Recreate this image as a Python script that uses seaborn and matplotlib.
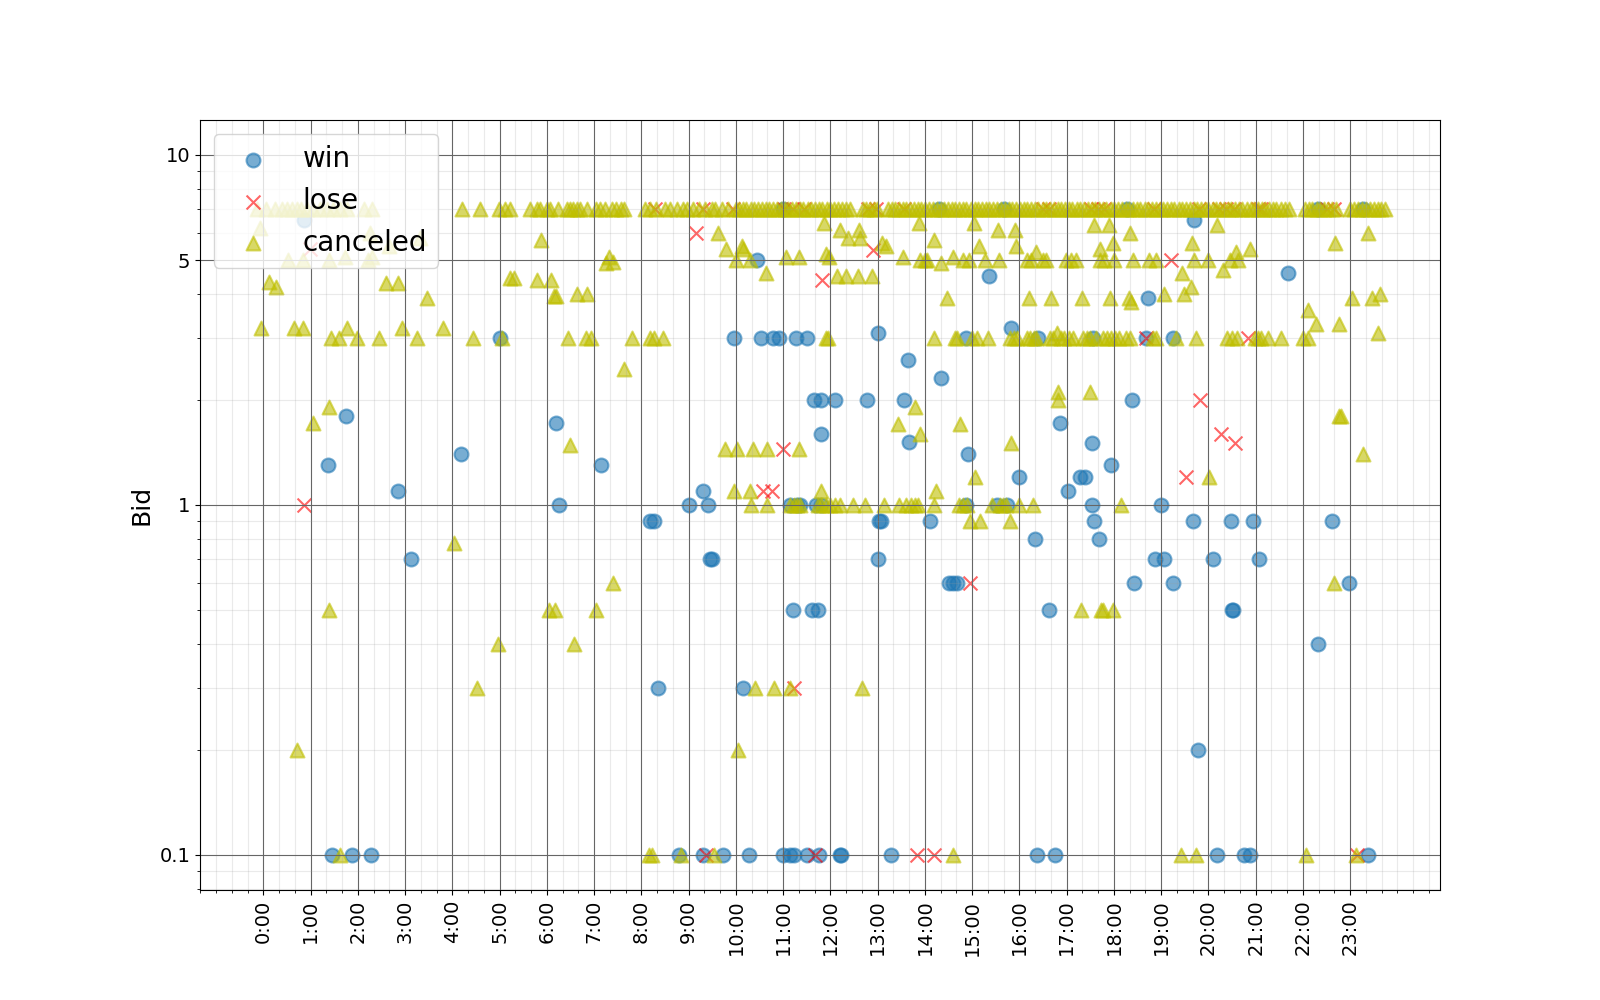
import matplotlib
matplotlib.use("Agg")
import matplotlib.pyplot as plt
import matplotlib.ticker as mticker
import seaborn as sns
import pandas as pd

# ---------------- data (hour of day, bid) ----------------
hour_ticks = list(range(24))
hour_labels = [f"{h}:00" for h in hour_ticks]
bid_ticks = [0.1, 1, 5, 10]
bid_labels = ["0.1", "1", "5", "10"]

win_points = [
    (0.86, 6.5), (1.37, 1.3), (1.75, 1.8), (2.84, 1.1), (3.13, 0.7), (4.19, 1.4), (5.0, 3.0),
    (1.46, 0.1), (1.87, 0.1), (2.27, 0.1), (6.19, 1.71), (6.26, 1.0), (7.14, 1.3),
    (8.18, 0.9), (8.27, 0.9), (8.36, 0.3), (8.8, 0.1), (9.0, 1.0), (9.31, 1.1), (9.4, 1.0),
    (9.45, 0.7), (9.49, 0.7), (9.31, 0.1), (9.73, 0.1), (9.95, 3.0), (10.14, 0.3), (10.28, 0.1),
    (10.45, 5.0), (10.53, 3.0), (10.78, 3.0), (10.92, 3.0), (11.0, 7.0), (11.27, 3.0), (11.51, 3.0),
    (10.99, 0.1), (11.14, 0.1), (11.22, 0.1), (11.51, 0.1), (11.76, 0.1), (11.14, 1.0), (11.3, 1.0),
    (11.35, 1.0), (11.7, 1.0), (11.8, 1.0), (11.2, 0.5), (11.62, 0.5), (11.74, 0.5), (11.66, 2.0),
    (11.8, 2.0), (11.8, 1.6), (12.09, 2.0), (12.2, 0.1), (12.23, 0.1), (12.78, 2.0), (13.0, 3.1),
    (13.03, 0.9), (13.07, 0.9), (13.0, 0.7), (13.29, 0.1), (13.55, 2.0), (13.64, 2.6), (13.66, 1.51),
    (14.1, 0.9), (14.3, 7.0), (14.33, 2.3), (14.86, 3.0), (14.86, 1.0), (14.91, 1.4), (14.5, 0.6),
    (14.6, 0.6), (14.68, 0.6), (15.36, 4.5), (15.53, 1.0), (15.73, 1.0), (15.67, 7.0), (15.83, 3.2),
    (16.0, 1.2), (16.32, 0.8), (16.39, 3.0), (16.63, 0.5), (16.37, 0.1), (16.75, 0.1), (16.85, 1.71),
    (17.03, 1.1), (17.28, 1.2), (17.38, 1.2), (17.54, 1.5), (17.54, 1.0), (17.56, 3.0), (17.57, 0.9),
    (17.68, 0.8), (17.93, 1.3), (18.27, 7.0), (18.39, 2.0), (18.42, 0.6), (18.68, 3.0), (18.72, 3.9),
    (18.86, 0.7), (19.0, 1.0), (19.07, 0.7), (19.26, 0.6), (19.25, 3.0), (19.67, 0.9), (19.69, 6.5),
    (19.78, 0.2), (20.09, 0.7), (20.18, 0.1), (20.48, 0.9), (20.49, 0.5), (20.52, 0.5), (20.76, 0.1),
    (20.87, 0.1), (20.94, 0.9), (21.08, 0.7), (21.68, 4.6), (22.32, 7.0), (22.32, 0.4), (22.62, 0.9),
    (22.97, 0.6), (23.27, 7.0), (23.37, 0.1),
]

lose_points = [
    (0.86, 1.0), (0.99, 5.4), (8.28, 7.0), (9.3, 7.0), (9.94, 7.0), (11.02, 7.0), (11.2, 7.0),
    (11.45, 7.0), (12.8, 7.0), (12.97, 7.0), (13.56, 7.0), (16.5, 7.0), (16.62, 7.0), (17.52, 7.0),
    (17.66, 7.0), (17.8, 7.0), (18.85, 7.0), (19.8, 7.0), (20.22, 7.0), (20.38, 7.0), (20.55, 7.0),
    (21.05, 7.0), (21.12, 7.0), (22.5, 7.0), (22.65, 7.0), (9.16, 6.0), (11.82, 4.4), (12.9, 5.35),
    (10.58, 1.1), (10.76, 1.1), (11.0, 1.45), (11.22, 0.3), (9.36, 0.1), (11.68, 0.1), (14.96, 0.6),
    (13.83, 0.1), (14.2, 0.1), (19.21, 5.0), (18.67, 3.0), (20.83, 3.0), (19.83, 2.0), (20.27, 1.6),
    (20.57, 1.5), (19.52, 1.2), (23.14, 0.1),
]

# canceled bids sitting on the 7.0 band
cancel_band_points = [
    (-0.14, 7.0), (0.06, 7.0), (0.25, 7.0), (0.39, 7.0), (0.5, 7.0), (0.6, 7.0), (0.71, 7.0),
    (0.79, 7.0), (0.92, 7.0), (1.06, 7.0), (1.2, 7.0), (1.34, 7.0), (1.48, 7.0), (1.62, 7.0),
    (1.77, 7.0), (2.12, 7.0), (2.29, 7.0), (4.2, 7.0), (4.58, 7.0), (4.98, 7.0), (5.12, 7.0),
    (5.22, 7.0), (5.64, 7.0), (5.79, 7.0), (5.86, 7.0), (6.0, 7.0), (6.07, 7.0), (6.24, 7.0),
    (6.42, 7.0), (6.49, 7.0), (6.56, 7.0), (6.63, 7.0), (6.7, 7.0), (6.84, 7.0), (7.05, 7.0),
    (7.12, 7.0), (7.23, 7.0), (7.37, 7.0), (7.47, 7.0), (7.56, 7.0), (7.63, 7.0), (8.07, 7.0),
    (8.18, 7.0), (8.32, 7.0), (8.5, 7.0), (8.6, 7.0), (8.75, 7.0), (8.89, 7.0), (8.96, 7.0),
    (9.1, 7.0), (9.21, 7.0), (9.35, 7.0), (9.49, 7.0), (9.56, 7.0), (9.7, 7.0), (9.84, 7.0),
    (10.0, 7.0), (10.07, 7.0), (10.15, 7.0), (10.22, 7.0), (10.31, 7.0), (10.38, 7.0), (10.47, 7.0),
    (10.55, 7.0), (10.63, 7.0), (10.7, 7.0), (10.79, 7.0), (10.87, 7.0), (10.95, 7.0), (11.04, 7.0),
    (11.11, 7.0), (11.19, 7.0), (11.28, 7.0), (11.36, 7.0), (11.43, 7.0), (11.52, 7.0), (11.6, 7.0),
    (11.67, 7.0), (11.76, 7.0), (11.83, 7.0), (11.92, 7.0), (12.0, 7.0), (12.08, 7.0), (12.17, 7.0),
    (12.24, 7.0), (12.33, 7.0), (12.41, 7.0), (12.68, 7.0), (12.76, 7.0), (12.83, 7.0), (12.92, 7.0),
    (12.98, 7.0), (13.22, 7.0), (13.3, 7.0), (13.37, 7.0), (13.45, 7.0), (13.53, 7.0), (13.61, 7.0),
    (13.68, 7.0), (13.77, 7.0), (13.85, 7.0), (13.92, 7.0), (14.0, 7.0), (14.08, 7.0), (14.17, 7.0),
    (14.25, 7.0), (14.33, 7.0), (14.4, 7.0), (14.49, 7.0), (14.57, 7.0), (14.64, 7.0), (14.73, 7.0),
    (14.81, 7.0), (14.88, 7.0), (14.97, 7.0), (15.05, 7.0), (15.12, 7.0), (15.21, 7.0), (15.29, 7.0),
    (15.36, 7.0), (15.45, 7.0), (15.53, 7.0), (15.6, 7.0), (15.69, 7.0), (15.77, 7.0), (15.84, 7.0),
    (15.93, 7.0), (16.01, 7.0), (16.09, 7.0), (16.17, 7.0), (16.25, 7.0), (16.33, 7.0), (16.4, 7.0),
    (16.49, 7.0), (16.57, 7.0), (16.64, 7.0), (16.73, 7.0), (16.81, 7.0), (16.88, 7.0), (16.97, 7.0),
    (17.05, 7.0), (17.12, 7.0), (17.21, 7.0), (17.29, 7.0), (17.36, 7.0), (17.45, 7.0), (17.53, 7.0),
    (17.6, 7.0), (17.69, 7.0), (17.77, 7.0), (17.84, 7.0), (17.93, 7.0), (18.01, 7.0), (18.08, 7.0),
    (18.17, 7.0), (18.25, 7.0), (18.32, 7.0), (18.41, 7.0), (18.49, 7.0), (18.56, 7.0), (18.65, 7.0),
    (18.73, 7.0), (18.8, 7.0), (18.89, 7.0), (18.97, 7.0), (19.04, 7.0), (19.13, 7.0), (19.21, 7.0),
    (19.28, 7.0), (19.37, 7.0), (19.45, 7.0), (19.52, 7.0), (19.61, 7.0), (19.69, 7.0), (19.76, 7.0),
    (19.85, 7.0), (19.93, 7.0), (20.0, 7.0), (20.09, 7.0), (20.17, 7.0), (20.24, 7.0), (20.33, 7.0),
    (20.41, 7.0), (20.48, 7.0), (20.57, 7.0), (20.65, 7.0), (20.72, 7.0), (20.81, 7.0), (20.89, 7.0),
    (20.96, 7.0), (21.05, 7.0), (21.13, 7.0), (21.2, 7.0), (21.29, 7.0), (21.37, 7.0), (21.44, 7.0),
    (21.53, 7.0), (21.61, 7.0), (21.7, 7.0), (22.05, 7.0), (22.13, 7.0), (22.2, 7.0), (22.29, 7.0),
    (22.37, 7.0), (22.44, 7.0), (22.53, 7.0), (22.61, 7.0), (22.7, 7.0), (23.0, 7.0), (23.08, 7.0),
    (23.17, 7.0), (23.25, 7.0), (23.33, 7.0), (23.42, 7.0), (23.5, 7.0), (23.58, 7.0), (23.66, 7.0),
    (23.74, 7.0),
]

# other canceled bids
cancel_points = [
    (-0.04, 3.2), (-0.07, 6.2), (0.12, 4.35), (0.26, 4.2), (0.53, 5.0), (0.64, 3.2), (0.72, 0.2),
    (0.83, 3.2), (0.85, 5.0), (1.06, 1.72), (1.38, 1.91), (1.38, 5.0), (1.4, 0.5), (1.43, 3.0),
    (1.61, 3.0), (1.62, 0.1), (1.73, 5.1), (1.77, 3.2), (1.99, 3.0), (2.22, 5.0), (2.26, 6.0),
    (2.3, 5.1), (2.44, 3.0), (2.59, 4.3), (2.65, 5.5), (2.86, 4.3), (2.93, 3.2), (3.26, 3.0),
    (3.32, 5.8), (3.47, 3.9), (3.81, 3.2), (4.03, 0.78), (4.43, 3.0), (4.53, 0.3), (4.96, 0.4),
    (5.05, 3.0), (5.21, 4.45), (5.3, 4.45), (5.8, 4.4), (5.87, 5.7), (6.08, 4.4), (6.15, 3.95),
    (6.2, 3.95), (6.63, 4.0), (6.84, 4.0), (6.44, 3.0), (6.82, 3.0), (6.93, 3.0), (6.05, 0.5),
    (6.17, 0.5), (7.05, 0.5), (6.58, 0.4), (6.49, 1.48), (7.25, 4.9), (7.31, 5.1), (7.4, 4.95),
    (7.4, 0.6), (7.63, 2.45), (7.8, 3.0), (8.19, 3.0), (8.26, 3.0), (8.46, 3.0), (8.16, 0.1),
    (8.23, 0.1), (8.84, 0.1), (9.53, 0.1), (9.63, 6.0), (9.79, 5.4), (10.0, 5.0), (10.12, 5.5),
    (10.16, 5.4), (10.3, 5.0), (10.63, 4.6), (9.77, 1.45), (10.02, 1.45), (10.37, 1.45),
    (10.66, 1.45), (11.34, 1.45), (9.95, 1.1), (10.3, 1.1), (11.8, 1.1), (10.31, 1.0), (10.66, 1.0),
    (11.14, 1.0), (11.22, 1.0), (11.3, 1.0), (11.35, 1.0), (11.74, 1.0), (10.4, 0.3), (10.81, 0.3),
    (11.14, 0.3), (10.05, 0.2), (11.07, 5.1), (11.34, 5.1), (11.86, 6.4), (11.9, 5.2), (11.9, 3.0),
    (11.97, 5.1), (12.21, 6.1), (12.37, 5.8), (12.6, 6.1), (12.63, 5.8), (13.1, 5.6), (13.18, 5.5),
    (13.88, 6.4), (14.19, 5.7), (13.54, 5.1), (13.9, 5.0), (14.0, 5.0), (14.05, 5.0), (14.35, 4.9),
    (14.6, 5.1), (14.8, 5.0), (14.93, 5.0), (15.03, 6.4), (15.15, 5.5), (15.27, 5.0), (15.57, 5.0),
    (15.55, 6.1), (15.9, 6.1), (15.92, 5.5), (16.15, 5.0), (16.25, 5.0), (16.36, 5.3), (16.5, 5.0),
    (16.57, 5.0), (16.99, 5.0), (17.1, 5.0), (17.2, 5.0), (17.57, 6.3), (17.9, 6.3), (18.35, 6.0),
    (17.7, 5.4), (17.97, 5.6), (17.7, 5.0), (17.8, 5.0), (18.0, 5.0), (18.4, 5.0), (12.13, 4.5),
    (12.32, 4.5), (12.59, 4.5), (12.89, 4.5), (14.47, 3.9), (16.2, 3.9), (16.66, 3.9), (17.32, 3.9),
    (17.91, 3.9), (18.31, 3.9), (11.95, 3.0), (14.2, 3.0), (14.63, 3.0), (14.67, 3.0), (15.0, 3.0),
    (15.1, 3.0), (15.33, 3.0), (15.8, 3.0), (15.88, 3.0), (15.95, 3.0), (16.15, 3.0), (16.22, 3.0),
    (16.3, 3.0), (16.36, 3.0), (16.64, 3.0), (16.72, 3.0), (16.8, 3.1), (16.88, 3.0), (16.95, 3.0),
    (17.05, 3.0), (17.13, 3.0), (17.35, 3.0), (17.42, 3.0), (17.5, 3.0), (17.63, 3.0), (17.77, 3.0),
    (17.85, 3.0), (17.93, 3.0), (18.02, 3.0), (18.1, 3.0), (18.26, 3.0), (13.78, 1.9), (13.43, 1.7),
    (13.89, 1.6), (14.74, 1.7), (16.82, 2.1), (16.82, 2.0), (17.5, 2.1), (15.82, 1.5), (15.07, 1.2),
    (14.23, 1.1), (11.8, 1.0), (11.9, 1.0), (12.0, 1.0), (12.1, 1.0), (12.2, 1.0), (12.47, 1.0),
    (12.73, 1.0), (13.14, 1.0), (13.45, 1.0), (13.6, 1.0), (13.7, 1.0), (13.78, 1.0), (13.85, 1.0),
    (14.2, 1.0), (14.72, 1.0), (14.8, 1.0), (14.9, 1.0), (15.42, 1.0), (15.58, 1.0), (15.65, 1.0),
    (15.72, 1.0), (16.0, 1.0), (16.29, 1.0), (18.16, 1.0), (14.95, 0.9), (15.17, 0.9), (15.8, 0.9),
    (12.66, 0.3), (14.6, 0.1), (17.3, 0.5), (17.73, 0.5), (17.77, 0.5), (17.98, 0.5), (19.65, 5.6),
    (20.59, 5.3), (20.88, 5.4), (20.62, 5.0), (20.45, 5.0), (18.75, 5.0), (18.9, 5.0), (19.7, 5.0),
    (20.0, 5.0), (19.44, 4.6), (20.3, 4.7), (19.63, 4.2), (19.48, 4.0), (19.07, 4.0), (18.37, 3.8),
    (22.1, 3.6), (22.27, 3.3), (22.77, 3.3), (23.03, 3.9), (23.46, 3.9), (23.62, 4.0), (22.67, 5.6),
    (23.38, 6.0), (23.59, 3.1), (20.18, 6.3), (18.33, 3.0), (18.82, 3.0), (18.9, 3.0), (19.32, 3.0),
    (19.74, 3.0), (20.4, 3.0), (20.5, 3.0), (20.6, 3.0), (20.98, 3.0), (21.05, 3.0), (21.12, 3.0),
    (21.26, 3.0), (21.54, 3.0), (22.0, 3.0), (22.1, 3.0), (22.77, 1.8), (22.8, 1.8), (23.27, 1.4),
    (20.02, 1.2), (22.65, 0.6), (19.42, 0.1), (19.73, 0.1), (22.07, 0.1), (23.13, 0.1),
]

win_df = pd.DataFrame(win_points, columns=["hour", "bid"])
lose_df = pd.DataFrame(lose_points, columns=["hour", "bid"])
cancel_df = pd.DataFrame(cancel_band_points + cancel_points, columns=["hour", "bid"])

# ---------------- plot ----------------
fig, ax = plt.subplots(figsize=(16, 10), dpi=100)

sns.scatterplot(data=win_df, x="hour", y="bid", ax=ax, color="#1f77b4", marker="o",
                s=100, alpha=0.6, edgecolor="face", linewidth=1.5, label="win")
sns.scatterplot(data=lose_df, x="hour", y="bid", ax=ax, color="red", marker="x",
                s=100, alpha=0.6, linewidth=1.5, label="lose")
sns.scatterplot(data=cancel_df, x="hour", y="bid", ax=ax, color="y", marker="^",
                s=100, alpha=0.6, edgecolor="face", linewidth=1.5, label="canceled")

ax.set_yscale("log")
ax.set_ylim(10 ** -1.1, 10 ** 1.1)
ax.set_xlim(-1.34, 24.9)

ax.set_yticks(bid_ticks)
ax.set_yticklabels(bid_labels, fontsize=14)
ax.yaxis.set_minor_locator(mticker.LogLocator(base=10, subs=[2, 3, 4, 5, 6, 7, 8, 9]))
ax.yaxis.set_minor_formatter(mticker.NullFormatter())

ax.set_xticks(hour_ticks)
ax.set_xticklabels(hour_labels, rotation=90, fontsize=14)
ax.xaxis.set_minor_locator(mticker.MultipleLocator(1 / 3))

ax.grid(which="major", color="#666666", linestyle="-")
ax.grid(which="minor", color="#999999", linestyle="-", alpha=0.2)

ax.set_xlabel("")
ax.set_ylabel("Bid", fontsize=18)
ax.legend(loc="upper left", fontsize=20)

fig.savefig("out.png")
